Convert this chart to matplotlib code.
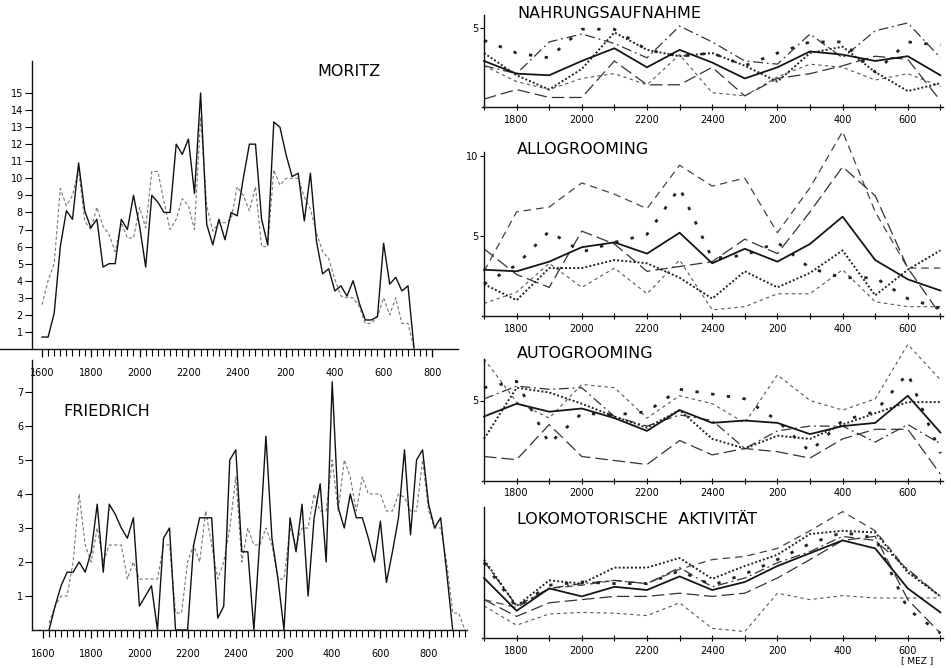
import numpy as np
import matplotlib.pyplot as plt

W, H = 951, 668

# ---------------- left panels: values every 15 min, hours after 16:00 ----------------
step = 0.25
left_tick_hours = [0, 2, 4, 6, 8, 10, 12, 14, 16]
left_tick_labels = ['1600', '1800', '2000', '2200', '2400', '200', '400', '600', '800']

moritz_start = 0.0
moritz_solid = [0.7, 0.7, 2.1, 6.0, 8.1, 7.6, 10.9, 8.1, 7.1, 7.6,
                4.8, 5.0, 5.0, 7.6, 7.0, 9.0, 7.2, 4.8, 9.0, 8.6,
                8.0, 8.0, 12.0, 11.4, 12.3, 9.1, 15.0, 7.3, 6.1, 7.6,
                6.4, 8.0, 7.8, 10.0, 12.0, 12.0, 7.6, 6.1, 13.3, 13.0,
                11.4, 10.1, 10.3, 7.5, 10.3, 6.3, 4.4, 4.7, 3.4, 3.7,
                3.1, 4.0, 2.7, 1.7, 1.7, 1.9, 6.2, 3.8, 4.2, 3.4,
                3.7, 0.0]
moritz_dashed = [2.6, 4.0, 5.0, 9.4, 8.4, 9.0, 10.5, 7.5, 7.0, 8.3,
                 7.2, 6.7, 5.7, 7.4, 6.5, 6.5, 8.3, 7.1, 10.4, 10.4,
                 8.6, 7.0, 7.6, 8.8, 8.4, 7.0, 13.6, 8.4, 6.9, 7.4,
                 7.4, 7.6, 9.5, 9.0, 8.1, 9.5, 6.0, 6.0, 10.5, 9.6,
                 10.0, 10.0, 10.0, 8.9, 8.2, 6.8, 5.7, 5.3, 4.1, 3.1,
                 3.0, 3.0, 2.5, 1.5, 1.5, 1.9, 3.0, 2.0, 3.0, 1.5,
                 1.5, 0.0]

friedrich_start = 0.25
friedrich_solid = [0.0, 0.7, 1.3, 1.7, 1.7, 2.0, 1.7, 2.3, 3.7, 1.7,
                   3.7, 3.4, 3.0, 2.7, 3.3, 0.7, 1.0, 1.3, 0.0, 2.7,
                   3.0, 0.0, 0.0, 0.0, 2.5, 3.3, 3.3, 3.3, 0.35, 0.7,
                   5.0, 5.3, 2.3, 2.3, 0.0, 2.7, 5.7, 2.7, 1.5, 0.0,
                   3.3, 2.3, 3.7, 1.0, 3.3, 4.3, 2.0, 7.3, 3.6, 3.0,
                   4.0, 3.3, 3.3, 2.7, 2.0, 3.2, 1.4, 2.3, 3.3, 5.3,
                   2.8, 5.0, 5.3, 3.7, 3.0, 3.3, 1.7, 0.0]
friedrich_dashed = [0.2, 0.7, 1.0, 1.0, 2.0, 4.0, 2.5, 2.0, 3.0, 2.0,
                    2.5, 2.5, 2.5, 1.5, 2.0, 1.5, 1.5, 1.5, 1.5, 2.5,
                    2.5, 0.5, 0.5, 2.0, 2.5, 2.0, 3.5, 2.5, 1.5, 2.0,
                    3.0, 4.5, 2.0, 3.0, 2.5, 2.5, 3.0, 2.5, 1.5, 1.5,
                    3.0, 2.5, 3.0, 3.0, 4.0, 3.5, 3.5, 5.0, 3.5, 5.0,
                    4.5, 3.5, 4.5, 4.0, 4.0, 4.0, 3.5, 3.5, 4.0, 3.9,
                    3.5, 3.5, 5.0, 3.5, 3.0, 3.0, 2.0, 0.5, 0.5, 0.0]

# ---------------- right panels: hourly values 17:00 .. 7:00 ----------------
right_hours = list(range(15))
right_tick_hours = [1, 3, 5, 7, 9, 11, 13]
right_tick_labels = ['1800', '2000', '2200', '2400', '200', '400', '600']

nahr_mean = [2.9, 2.1, 2.0, 2.9, 3.7, 2.5, 3.6, 2.8, 1.8, 2.5, 3.5, 3.3, 2.9, 3.2, 2.0]
nahr_sparse = [4.2, 3.4, 3.1, 4.9, 4.9, 3.6, 3.2, 3.4, 2.6, 3.4, 4.1, 4.1, 2.2, 4.1, 3.9]
nahr_dashdot = [2.6, 2.1, 4.1, 4.6, 4.0, 3.1, 5.1, 4.1, 2.9, 2.7, 4.6, 3.1, 4.8, 5.3, 3.1]
nahr_long = [0.5, 1.1, 0.6, 0.6, 2.9, 1.4, 1.4, 2.5, 0.7, 1.8, 2.1, 2.6, 3.2, 3.0, 0.4]
nahr_short = [2.6, 1.6, 1.1, 1.8, 2.1, 1.4, 3.3, 0.9, 0.7, 1.9, 2.7, 2.5, 1.7, 2.1, 1.3]
nahr_dense = [3.4, 2.0, 1.1, 2.4, 4.7, 3.6, 3.2, 3.4, 2.6, 1.6, 3.4, 3.8, 2.2, 1.0, 1.5]

allo_mean = [2.9, 2.8, 3.4, 4.3, 4.6, 3.9, 5.2, 3.3, 4.2, 3.4, 4.5, 6.2, 3.5, 2.3, 1.6]
allo_medium = [2.8, 6.5, 6.8, 8.3, 7.6, 6.7, 9.4, 8.1, 8.6, 5.2, 8.0, 11.5, 6.5, 3.0, 3.0]
allo_long = [4.2, 2.6, 1.8, 5.3, 4.5, 2.8, 3.1, 3.4, 4.8, 3.9, 6.5, 9.3, 7.5, 3.0, 0.1]
allo_sparse = [2.0, 3.2, 5.3, 4.0, 4.6, 5.1, 8.0, 3.6, 3.8, 4.6, 3.0, 2.4, 2.4, 1.1, 0.5]
allo_dense = [2.0, 1.0, 3.0, 3.0, 3.5, 3.3, 2.4, 1.1, 2.8, 1.8, 2.7, 4.1, 1.3, 2.9, 4.1]
allo_short = [0.8, 1.5, 3.3, 1.8, 3.0, 1.4, 3.5, 0.4, 0.6, 1.4, 1.4, 2.9, 0.9, 0.6, 0.6]

auto_mean = [4.0, 4.8, 4.3, 4.5, 3.9, 3.1, 4.4, 3.6, 3.75, 3.6, 2.9, 3.4, 3.6, 5.3, 3.0]
auto_short = [7.6, 4.9, 3.9, 6.0, 5.8, 3.9, 5.3, 4.8, 3.6, 6.6, 5.0, 4.4, 5.1, 8.5, 6.3]
auto_long = [1.5, 1.3, 3.5, 1.5, 1.25, 1.0, 2.5, 1.6, 2.0, 1.8, 1.4, 2.6, 3.2, 3.2, 0.4]
auto_dense = [2.6, 5.8, 5.5, 4.8, 4.0, 3.3, 4.4, 2.6, 2.0, 2.8, 2.6, 3.5, 4.2, 4.9, 4.9]
auto_sparse = [5.8, 6.2, 2.3, 4.2, 4.1, 4.3, 5.7, 5.4, 5.1, 3.75, 1.8, 3.75, 4.3, 6.7, 1.7]
auto_dashdot = [5.1, 5.9, 5.7, 5.8, 4.0, 3.4, 4.1, 3.75, 2.0, 3.1, 3.4, 3.4, 2.4, 3.5, 2.3]

loko_mean = [3.75, 1.7, 3.1, 2.6, 3.2, 3.0, 3.85, 3.0, 3.5, 4.5, 5.3, 6.1, 5.6, 3.1, 1.6]
loko_dense = [4.9, 2.0, 3.6, 3.4, 4.4, 4.4, 5.0, 3.7, 4.5, 5.2, 6.5, 6.7, 6.6, 4.1, 2.6]
loko_medium = [2.4, 1.9, 3.1, 3.3, 3.6, 3.4, 4.3, 4.9, 5.1, 5.6, 6.7, 7.9, 6.7, 4.2, 2.6]
loko_dashdot = [4.8, 2.0, 3.1, 3.4, 3.6, 3.4, 4.4, 3.2, 3.75, 4.7, 5.4, 6.35, 6.1, 4.3, 2.6]
loko_long = [2.4, 1.35, 2.2, 2.4, 2.6, 2.6, 2.8, 2.6, 2.8, 3.75, 4.9, 6.1, 6.35, 2.4, 0.3]
loko_short = [2.0, 0.8, 1.5, 1.6, 1.55, 1.4, 2.2, 0.6, 0.4, 2.8, 2.4, 2.65, 2.5, 2.5, 2.5]
loko_sparse = [4.7, 1.9, 3.3, 3.5, 3.4, 3.4, 4.2, 3.3, 4.0, 4.9, 5.9, 6.6, 6.25, 1.8, 0.3]

# line styles of the right-hand panels
styles = {
    'mean': dict(ls='-', lw=1.3, color='#151515'),
    'dense': dict(ls=(0, (1, 1.1)), lw=1.4, color='#222222'),
    'sparse': dict(ls=(0, (1.2, 4.5)), lw=2.0, color='#222222'),
    'short': dict(ls=(0, (3, 3)), lw=0.8, color='#555555'),
    'medium': dict(ls=(0, (6, 4)), lw=0.9, color='#444444'),
    'long': dict(ls=(0, (10, 4)), lw=0.9, color='#333333'),
    'dashdot': dict(ls=(0, (8, 3, 1.5, 3)), lw=0.9, color='#333333'),
}

tick_font = ['Liberation Sans Narrow', 'DejaVu Sans']
title_font = 'DejaVu Sans'

fig = plt.figure(figsize=(W / 100, H / 100), dpi=100)


def px_axes(box, x_org, x_scale, y_org, y_scale):
    # box in pixels (left, top, right, bottom); data origin and scale given in pixels
    x0, y0, x1, y1 = box
    ax = fig.add_axes([x0 / W, 1 - y1 / H, (x1 - x0) / W, (y1 - y0) / H])
    ax.set_xlim((x0 - x_org) / x_scale, (x1 - x_org) / x_scale)
    ax.set_ylim((y_org - y1) / y_scale, (y_org - y0) / y_scale)
    ax.patch.set_alpha(0)
    ax.spines['top'].set_visible(False)
    ax.spines['right'].set_visible(False)
    for sp in ('left', 'bottom'):
        ax.spines[sp].set_linewidth(1.0)
        ax.spines[sp].set_color('#111111')
    return ax


def left_panel(box, x_org, x_scale, y_org, y_scale, yaxis_x, ytop, xspan,
               tick_end, yticks, start, solid, dashed):
    ax = px_axes(box, x_org, x_scale, y_org, y_scale)
    ax.spines['left'].set_position(('data', yaxis_x))
    ax.spines['left'].set_bounds(0, ytop)
    ax.spines['bottom'].set_position(('data', 0))
    ax.spines['bottom'].set_bounds(*xspan)
    ax.set_yticks(yticks)
    ax.set_yticklabels([str(v) for v in yticks], family=tick_font, fontsize=7)
    ax.tick_params(axis='y', direction='out', length=5, width=0.8, pad=1.5)
    ax.set_xticks(left_tick_hours)
    ax.set_xticklabels(left_tick_labels, family=tick_font, fontsize=7)
    ax.set_xticks(np.arange(0, tick_end + 0.01, step), minor=True)
    ax.tick_params(axis='x', which='major', direction='out', length=6, width=0.9, pad=7.5)
    ax.tick_params(axis='x', which='minor', direction='out', length=5, width=0.8)
    t_solid = start + step * np.arange(len(solid))
    t_dash = start + step * np.arange(len(dashed))
    ax.plot(t_dash, dashed, ls=(0, (3, 2)), lw=0.8, color='#777777')
    ax.plot(t_solid, solid, ls='-', lw=1.0, color='#111111')
    return ax


# MORITZ
left_panel((0, 40, 470, 380), 42, 24.4, 349, 17.07, -0.41, 16.9, (-1.72, 17.05),
           16.0, list(range(1, 16)), moritz_start, moritz_solid, moritz_dashed)
fig.text(317 / W, 1 - 72 / H, 'MORITZ', family=title_font, fontsize=11.5,
         va='center', ha='left')

# FRIEDRICH
left_panel((0, 355, 475, 668), 43, 24.1, 630, 34.0, -0.45, 7.95, (-0.45, 17.6),
           17.5, list(range(1, 8)), friedrich_start, friedrich_solid, friedrich_dashed)
fig.text(63 / W, 1 - 412 / H, 'FRIEDRICH', family=title_font, fontsize=11.5,
         va='center', ha='left')


def right_panel(box, y_org, y_scale, ytop, yticks, series, title, title_y):
    ax = px_axes(box, 484, 32.6, y_org, y_scale)
    ax.spines['left'].set_position(('data', 0))
    ax.spines['left'].set_bounds(0, ytop)
    ax.spines['bottom'].set_position(('data', 0))
    ax.spines['bottom'].set_bounds(-0.05, 14.08)
    ax.set_yticks(yticks)
    ax.set_yticklabels([str(v) for v in yticks], family=tick_font, fontsize=7)
    ax.tick_params(axis='y', direction='out', length=3, width=0.8, pad=1)
    ax.set_xticks(right_tick_hours)
    ax.set_xticklabels(right_tick_labels, family=tick_font, fontsize=7)
    ax.set_xticks(right_hours, minor=True)
    ax.tick_params(axis='x', which='both', direction='inout', length=5, width=0.8, pad=3)
    for key, vals in series:
        st = styles[key]
        ax.plot(right_hours, vals, ls=st['ls'], lw=st['lw'], color=st['color'])
    fig.text(517 / W, 1 - title_y / H, title, family=title_font, fontsize=11.5,
             va='center', ha='left')
    return ax


right_panel((470, 0, 951, 125), 107, 15.87, 5.8, [5],
            [('long', nahr_long), ('short', nahr_short), ('dense', nahr_dense),
             ('dashdot', nahr_dashdot), ('sparse', nahr_sparse), ('mean', nahr_mean)],
            'NAHRUNGSAUFNAHME', 13)

right_panel((470, 125, 951, 332), 316.3, 16.07, 10.2, [5, 10],
            [('short', allo_short), ('medium', allo_medium), ('long', allo_long),
             ('sparse', allo_sparse), ('dense', allo_dense), ('mean', allo_mean)],
            'ALLOGROOMING', 149)

right_panel((470, 332, 951, 497), 480.5, 16.0, 7.6, [5],
            [('short', auto_short), ('long', auto_long), ('dashdot', auto_dashdot),
             ('sparse', auto_sparse), ('dense', auto_dense), ('mean', auto_mean)],
            'AUTOGROOMING', 353)

right_panel((470, 497, 951, 668), 638, 16.0, 8.2, [],
            [('short', loko_short), ('long', loko_long), ('medium', loko_medium),
             ('dashdot', loko_dashdot), ('sparse', loko_sparse), ('dense', loko_dense),
             ('mean', loko_mean)],
            'LOKOMOTORISCHE  AKTIVITÄT', 520)
fig.text(917 / W, 1 - 661 / H, '[ MEZ ]', family=tick_font, fontsize=6.5,
         va='center', ha='center')

fig.savefig('out.png', dpi=100)
